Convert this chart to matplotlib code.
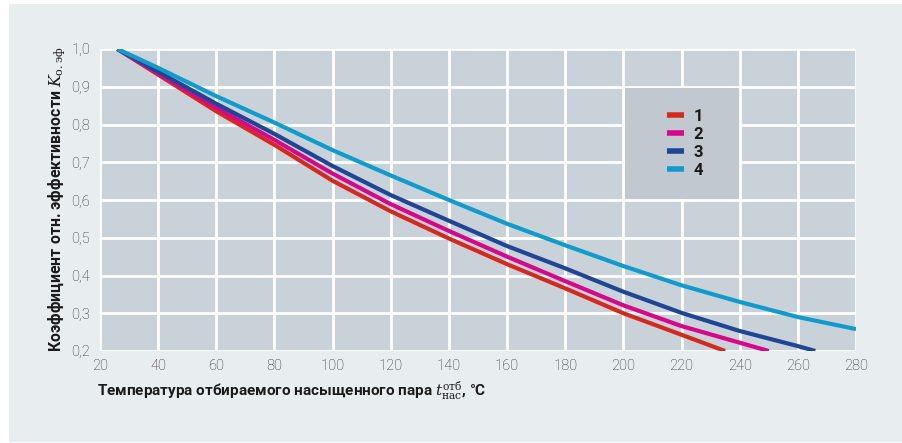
import matplotlib
matplotlib.use('Agg')
import matplotlib.pyplot as plt
from matplotlib.patches import Rectangle

# temperature of extracted saturated steam, degC
t1 = [26, 40, 60, 80, 100, 120, 140, 160, 180, 200, 220, 235]
k1 = [1.0, 0.932, 0.835, 0.746, 0.651, 0.570, 0.498, 0.430, 0.366, 0.300, 0.243, 0.2]

t2 = [26, 40, 60, 80, 100, 120, 140, 160, 180, 200, 220, 240, 250]
k2 = [1.0, 0.935, 0.845, 0.759, 0.670, 0.589, 0.518, 0.450, 0.385, 0.321, 0.266, 0.222, 0.2]

t3 = [26, 40, 60, 80, 100, 120, 140, 160, 180, 200, 220, 240, 260, 266]
k3 = [1.0, 0.940, 0.855, 0.775, 0.690, 0.613, 0.545, 0.478, 0.419, 0.357, 0.301, 0.253, 0.213, 0.2]

t4 = [26, 40, 60, 80, 100, 120, 140, 160, 180, 200, 220, 240, 260, 280]
k4 = [1.0, 0.950, 0.875, 0.805, 0.732, 0.665, 0.600, 0.537, 0.480, 0.425, 0.374, 0.330, 0.290, 0.258]

labels = ['1', '2', '3', '4']
colors = ['#d42a1e', '#d8068a', '#1f4595', '#0f9ccd']

xticks = list(range(20, 281, 20))
yticks = [0.2, 0.3, 0.4, 0.5, 0.6, 0.7, 0.8, 0.9, 1.0]

plt.rcParams['font.family'] = ['Roboto', 'DejaVu Sans']
plt.rcParams['mathtext.fontset'] = 'dejavuserif'

W, H = 903, 443
fig = plt.figure(figsize=(W / 100, H / 100), dpi=100)
fig.patch.set_facecolor('white')
fig.patches.append(Rectangle((9 / W, 1 / H), 1 - 9 / W, (442 - 4) / H,
                             transform=fig.transFigure, facecolor='#e8edf0',
                             edgecolor='none', zorder=-5))

ax = fig.add_axes([100 / W, 1 - 351 / H, 756 / W, 302 / H])
ax.set_zorder(1)
ax.set_facecolor('#c9d1d9')
ax.set_xlim(20, 280)
ax.set_ylim(0.2, 1.0)
ax.set_xticks(xticks)
ax.set_yticks(yticks)
ax.set_xticklabels([str(v) for v in xticks])
ax.set_yticklabels([('%.1f' % v).replace('.', ',') for v in yticks])
ax.grid(True, color='white', linewidth=2)
ax.set_axisbelow(True)
for s in ax.spines.values():
    s.set_visible(False)
ax.tick_params(length=0, labelsize=10.5, colors='#2a2a2a', pad=6)
ax.tick_params(axis='y', pad=7)
for lab in ax.get_xticklabels() + ax.get_yticklabels():
    lab.set_fontweight('light')

# legend panel covers the grid cell block 200..240 x 0.6..0.9
ax.add_patch(Rectangle((200.6, 0.603), 39, 0.294, facecolor='#c1c8d0',
                       edgecolor='none', zorder=1.5))

series = [(t1, k1), (t2, k2), (t3, k3), (t4, k4)]
for (t, k), c, lab in zip(series, colors, labels):
    ax.plot(t, k, color=c, linewidth=3, solid_capstyle='butt', zorder=3, label=lab)

leg = ax.legend(loc='upper left', bbox_to_anchor=(0.730, 0.852), frameon=False,
                handlelength=1.0, handletextpad=0.6, labelspacing=0.18,
                prop={'weight': 'bold', 'size': 12})
for h in leg.get_lines():
    h.set_linewidth(4)
for txt in leg.get_texts():
    txt.set_color('#1a1a1a')

fig.text(57 / W, 1 - 199 / H,
         'Коэффициент отн. эффективности $K_{\\mathrm{о{.}эф}}$',
         rotation=90, ha='center', va='center', fontsize=11.4,
         fontweight='bold', color='#1a1a1a')
fig.text(97 / W, 1 - 391 / H,
         'Температура отбираемого насыщенного пара $t^{\\mathrm{отб}}_{\\mathrm{нас}}$, °C',
         ha='left', va='center', fontsize=11, fontweight='bold', color='#1a1a1a')

fig.savefig('out.png', dpi=100, facecolor=fig.get_facecolor())
